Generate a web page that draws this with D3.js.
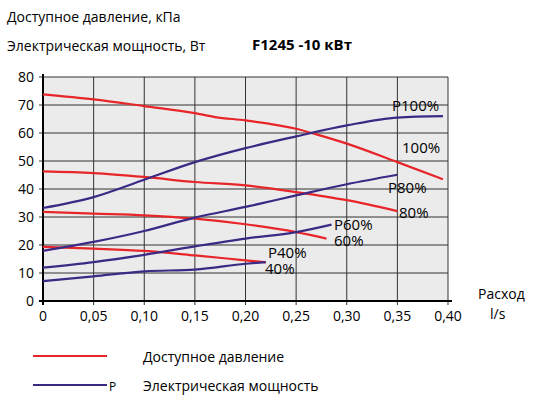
<!DOCTYPE html><html><head><meta charset="utf-8"><script src="https://cdn.jsdelivr.net/npm/d3@7"></script>
<style>body{margin:0;background:#fff}text{font-family:"Open Sans",sans-serif}</style></head><body><svg id="c" width="533" height="411"></svg>
<script>
const xTicks=[0,0.05,0.10,0.15,0.20,0.25,0.30,0.35,0.40];
const yTicks=[0,10,20,30,40,50,60,70,80];
const xs100=[0,0.05,0.10,0.15,0.17,0.20,0.25,0.27,0.30,0.35,0.395];
const red100=[73.8,72,69.6,67.1,65.7,64.5,61.5,59.5,56.2,49.6,43.5];
const xs80=[0,0.05,0.10,0.15,0.20,0.25,0.30,0.35];
const red80=[46.3,45.7,44.3,42.5,41.3,38.9,36,32.1];
const xs60=[0,0.05,0.10,0.15,0.20,0.25,0.28];
const red60=[31.8,31.2,30.6,29.4,27.4,24.6,22.3];
const xs40=[0,0.05,0.10,0.15,0.20,0.22];
const red40=[19.3,18.7,17.9,16.3,14.5,13.8];
const xsP100=[0,0.05,0.10,0.15,0.20,0.25,0.30,0.35,0.395];
const p100=[33.2,37.1,43.3,49.6,54.6,58.8,62.7,65.5,66];
const p80=[17.9,21.1,25,29.8,33.6,37.7,41.7,45.1];
const xsP60=[0,0.05,0.10,0.15,0.20,0.25,0.285];
const p60=[11.9,13.9,16.5,19.5,22.3,24.6,27.3];
const p40=[7.1,8.8,10.6,11.2,13.3,13.9];
const svg=d3.select("#c");
const x=d3.scaleLinear().domain([0,0.4]).range([43,448]);
const y=d3.scaleLinear().domain([0,80]).range([301,77]);
svg.append("rect").attr("x",43).attr("y",77).attr("width",405).attr("height",224).attr("fill","#ebebeb");
const g=svg.append("g");
xTicks.forEach(t=>g.append("line").attr("x1",x(t)).attr("x2",x(t)).attr("y1",77).attr("y2",305).attr("stroke","#333").attr("stroke-width",1));
yTicks.forEach(t=>g.append("line").attr("x1",39).attr("x2",448).attr("y1",y(t)).attr("y2",y(t)).attr("stroke","#333").attr("stroke-width",1));
g.append("line").attr("x1",43).attr("x2",43).attr("y1",74).attr("y2",305).attr("stroke","#000").attr("stroke-width",2);
g.append("line").attr("x1",39).attr("x2",452).attr("y1",301).attr("y2",301).attr("stroke","#000").attr("stroke-width",2);
const fmt=d=>d===0?"0":d.toFixed(2).replace(".",",");
xTicks.forEach(t=>svg.append("text").attr("x",x(t)).attr("y",321).attr("text-anchor","middle").attr("font-size",14).text(fmt(t)));
yTicks.forEach(t=>svg.append("text").attr("x",34).attr("y",y(t)+5).attr("text-anchor","end").attr("font-size",14).text(t));
const line=d3.line().x(d=>x(d[0])).y(d=>y(d[1])).curve(d3.curveMonotoneX);
const draw=(xs,ys,c)=>svg.append("path").attr("d",line(xs.map((v,i)=>[v,ys[i]]))).attr("fill","none").attr("stroke",c).attr("stroke-width",2.2);
const R="#e8262a",B="#3b2a85";
draw(xs100,red100,R);draw(xs80,red80,R);draw(xs60,red60,R);draw(xs40,red40,R);
draw(xsP100,p100,B);draw(xs80,p80,B);draw(xsP60,p60,B);draw(xs40,p40,B);
const lab=(t,X,Y)=>svg.append("text").attr("x",X).attr("y",Y).attr("font-size",15).text(t);
lab("P100%",392,111);lab("100%",402,153);lab("P80%",388,193);lab("80%",399,218);
lab("P60%",334,230);lab("60%",334,246);lab("P40%",268,258);lab("40%",265,274);
svg.append("text").attr("x",7).attr("y",22).attr("font-size",14).text("Доступное давление, кПа");
svg.append("text").attr("x",7).attr("y",51).attr("font-size",14).text("Электрическая мощность, Вт");
svg.append("text").attr("x",252).attr("y",50).attr("font-size",15).attr("font-weight","bold").text("F1245 -10 кВт");
svg.append("text").attr("x",478).attr("y",299).attr("font-size",14).text("Расход");
svg.append("text").attr("x",490).attr("y",319).attr("font-size",14).text("l/s");
svg.append("line").attr("x1",33).attr("x2",107).attr("y1",356).attr("y2",356).attr("stroke",R).attr("stroke-width",2.2);
svg.append("line").attr("x1",33).attr("x2",107).attr("y1",385).attr("y2",385).attr("stroke",B).attr("stroke-width",2.2);
svg.append("text").attr("x",109).attr("y",391).attr("font-size",12).text("P");
svg.append("text").attr("x",143).attr("y",362).attr("font-size",14).text("Доступное давление");
svg.append("text").attr("x",143).attr("y",391).attr("font-size",14).text("Электрическая мощность");
</script></body></html>
